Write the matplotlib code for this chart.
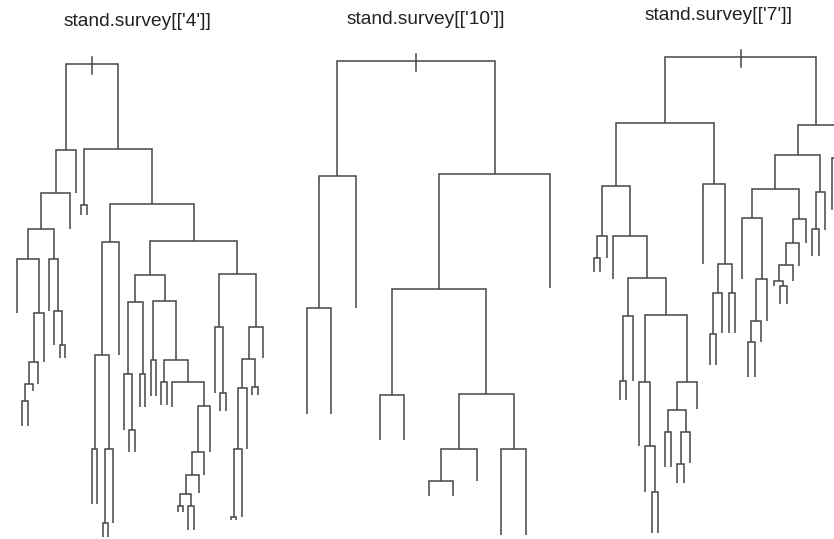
import matplotlib.pyplot as plt

# Dendrograms in R "merge" form: negative = leaf number (left to right),
# positive = row of an earlier merge. Heights are merge heights,
# leaf_end is where each hanging leaf stops.

titles = ["stand.survey[['4']]", "stand.survey[['10']]", "stand.survey[['7']]"]

merge_4 = [(-2, -3), (1, -4), (2, -5), (3, -6), (-1, 4), (-9, -10), (-8, 6),
           (-7, 7), (5, 8), (9, -11), (10, -12), (-13, -14), (-15, -16),
           (-17, -18), (14, -19), (13, 15), (16, -20), (-22, -23), (-21, 18),
           (-24, -25), (19, 20), (-26, -27), (-28, -29), (-31, -32), (-33, -34),
           (24, 25), (26, -35), (27, -36), (28, -37), (-30, 29), (23, 30),
           (22, 31), (21, 32), (-39, -40), (-38, 34), (-41, -42), (36, -43),
           (37, -44), (-45, -46), (38, 39), (40, -47), (35, 41), (33, 42),
           (17, 43), (12, 44), (11, 45)]
height_4 = [1.38, 1.55, 1.77, 2.26, 2.80, 1.94, 2.28, 2.80, 3.10, 3.46, 3.89,
            3.34, 0.90, 0.16, 0.90, 1.84, 2.97, 1.09, 1.65, 1.65, 2.37, 1.79,
            1.57, 0.33, 0.33, 0.45, 0.64, 0.87, 1.33, 1.57, 1.79, 2.38, 2.64,
            1.46, 2.12, 0.22, 0.90, 1.51, 1.52, 1.80, 2.12, 2.65, 2.98, 3.35,
            3.90, 4.75]
leaf_end_4 = [2.26, 1.13, 1.13, 1.48, 1.55, 1.77, 2.28, 1.94, 1.81, 1.81, 3.10,
              3.46, 3.24, 3.24, 0.35, 0.35, 0.02, 0.02, 0.16, 1.84, 1.09, 0.87,
              0.87, 1.32, 1.32, 1.43, 1.43, 1.34, 1.34, 1.32, 0.27, 0.27, 0.09,
              0.09, 0.46, 0.64, 0.87, 1.46, 1.28, 1.28, 0.19, 0.19, 0.22, 0.90,
              1.44, 1.44, 1.81]

merge_10 = [(-1, -2), (1, -3), (-4, -5), (-6, -7), (4, -8), (-9, -10), (5, 6),
            (3, 7), (8, -11), (2, 9)]
height_10 = [2.31, 3.63, 1.44, 0.58, 0.90, 0.90, 1.45, 2.50, 3.65, 4.78]
leaf_end_10 = [1.25, 1.25, 2.31, 0.99, 0.99, 0.43, 0.43, 0.58, 0.04, 0.04, 2.51]

merge_7 = [(-1, -2), (1, -3), (-5, -6), (3, -7), (-10, -11), (-9, 5), (-8, 6),
           (-12, -13), (-14, -15), (9, -16), (8, 10), (11, -17), (7, 12),
           (4, 13), (-4, 14), (2, 15), (-19, -20), (17, -21), (-22, -23),
           (18, 19), (-18, 20), (16, 21), (-25, -26), (23, -27), (24, -28),
           (-24, 25), (-30, -31), (-29, 27), (28, -32), (29, -33), (30, -34),
           (26, 31), (-35, -36), (33, -37), (32, 34), (-38, -39), (35, 36),
           (22, 37)]
height_7 = [2.81, 3.03, 1.58, 2.23, 0.47, 0.93, 1.57, 1.07, 0.75, 1.07, 1.29,
            1.57, 2.24, 2.61, 3.03, 3.53, 2.05, 2.46, 2.46, 2.75, 3.55, 4.16,
            1.97, 2.18, 2.60, 3.21, 2.53, 2.58, 2.74, 2.96, 3.20, 3.50, 3.10,
            3.47, 3.84, 3.81, 4.14, 4.82]
leaf_end_7 = [2.67, 2.67, 2.81, 2.60, 1.39, 1.39, 1.58, 0.93, 0.47, 0.06, 0.06,
              0.72, 0.72, 0.56, 0.56, 0.76, 1.30, 2.75, 1.74, 1.74, 2.06, 2.06,
              2.06, 2.60, 1.62, 1.62, 1.97, 2.18, 2.53, 2.35, 2.35, 2.58, 2.73,
              2.96, 2.83, 2.83, 3.09, 3.29, 3.09]


def draw_tree(ax, merge, heights, leaf_end, color="#454545", lw=1.1):
    node_x = []

    def child(c):
        if c < 0:
            return -c, leaf_end[-c - 1]
        return node_x[c - 1], heights[c - 1]

    for (a, b), h in zip(merge, heights):
        xa, ya = child(a)
        xb, yb = child(b)
        ax.plot([xa, xa, xb, xb], [ya, h, h, yb], color=color, lw=lw,
                solid_joinstyle="miter", solid_capstyle="butt")
        node_x.append((xa + xb) / 2)
    # little mark across the top of the root
    ax.plot([node_x[-1]] * 2, [heights[-1] + 0.07, heights[-1] - 0.10],
            color=color, lw=lw)


fig = plt.figure(figsize=(8.34, 5.39), dpi=100)
W, H = 834.0, 539.0

# axes placement in pixels: left edge, width
boxes = [(14.3, 251.5), (294.9, 267.3), (590.8, 250.4)]
title_pos = [(137, 22), (426, 19), (719, 16)]
trees = [(merge_4, height_4, leaf_end_4),
         (merge_10, height_10, leaf_end_10),
         (merge_7, height_7, leaf_end_7)]

for (left, width), (tx, ty), title, (m, h, le) in zip(boxes, title_pos, titles, trees):
    ax = fig.add_axes([left / W, 0, width / W, 1])
    draw_tree(ax, m, h, le)
    ax.set_xlim(0.5, len(le) + 0.5)
    ax.set_ylim(0, 5.39)
    ax.axis("off")
    fig.text(tx / W, 1 - ty / H, title, ha="center", va="center",
             fontsize=13.8, family="Liberation Sans", color="#222222")

fig.savefig("out.png", dpi=100)
